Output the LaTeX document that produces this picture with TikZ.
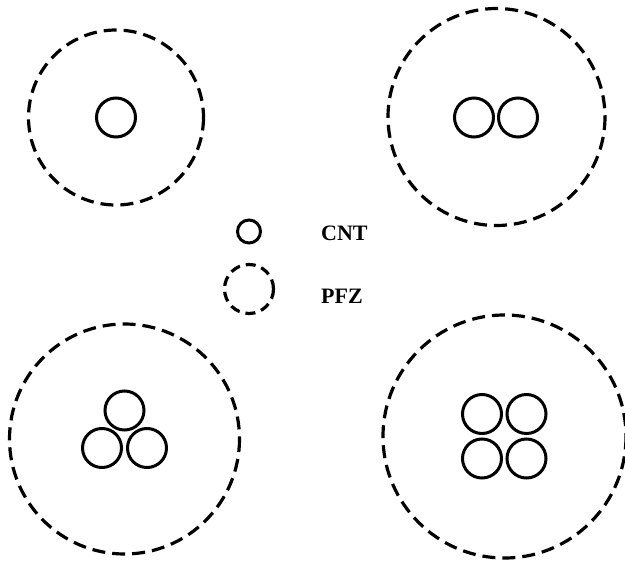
\documentclass[tikz,border=0pt]{standalone}
\usepackage{fontspec}
\setmainfont{Liberation Serif}
\begin{document}
\begin{tikzpicture}[x=1pt,y=-1pt,
  cnt/.style={draw=black,line width=3pt},
  pfz/.style={draw=black,line width=3.2pt,dash pattern=on 13pt off 7pt},
  lbl/.style={font=\bfseries\fontsize{22}{26}\selectfont,anchor=west,inner sep=0pt}]
\useasboundingbox (0,0) rectangle (625,562);
% top-left
\draw[pfz] (116,117.5) circle (87.5);
\draw[cnt] (116,117.5) circle (19.5);
% top-right
\draw[pfz] (496.5,117) circle (108.5);
\draw[cnt] (474,117.5) circle (19.5);
\draw[cnt] (518,117.5) circle (19.5);
% legend
\draw[cnt] (249,231.5) circle (11.5);
\node[lbl] (cnt) at (321,233) {CNT};
\draw[pfz,dash pattern=on 10pt off 6pt] (249,289) circle (24.5);
\node[lbl] (pfz) at (321,296) {PFZ};
% bottom-left
\draw[pfz] (124.5,439) circle (115);
\draw[cnt] (124.5,410.5) circle (19.5);
\draw[cnt] (102,448) circle (19.5);
\draw[cnt] (147,448) circle (19.5);
% bottom-right
\draw[pfz] (504.5,436.5) circle (121.5);
\draw[cnt] (482,414) circle (19.5);
\draw[cnt] (526.5,414) circle (19.5);
\draw[cnt] (482,458.5) circle (19.5);
\draw[cnt] (526.5,458.5) circle (19.5);
\end{tikzpicture}
\end{document}
